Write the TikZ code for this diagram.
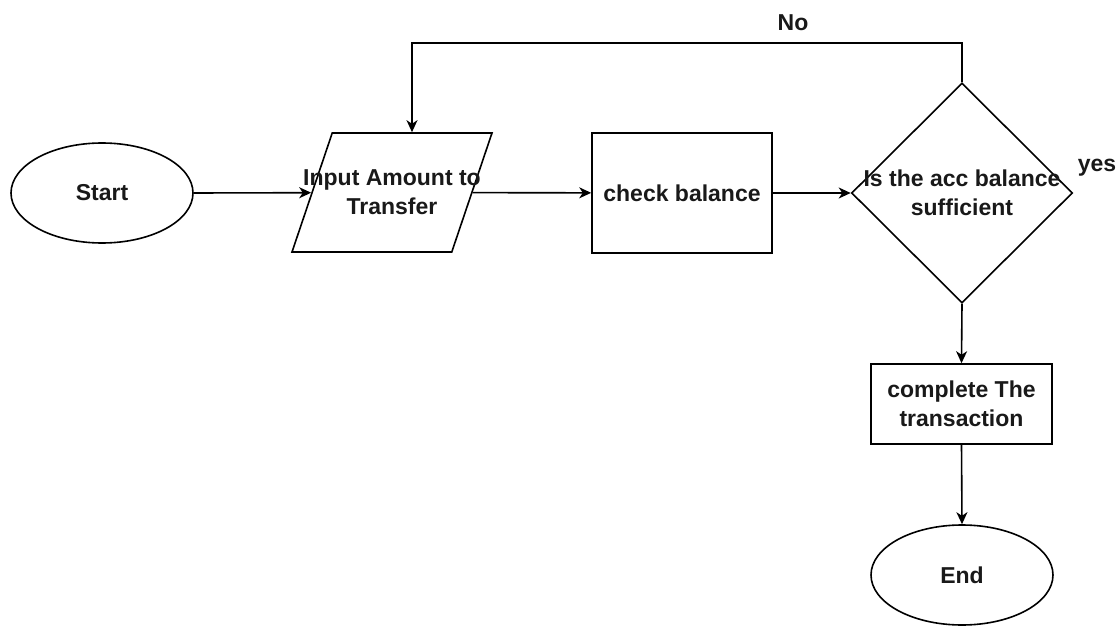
\documentclass[tikz,border=0pt]{standalone}
\usepackage{fontspec}
\setmainfont{Liberation Sans}
\usetikzlibrary{shapes.geometric,arrows.meta,calc}
\begin{document}
\begin{tikzpicture}[x=0.5pt,y=-0.5pt,
  every node/.style={font=\bfseries\fontsize{11.5}{14.5}\selectfont, text=black!90},
  shp/.style={draw, line width=0.8pt, inner sep=0pt, align=center},
  oval/.style={shp, ellipse, minimum width=91pt, minimum height=50pt},
  box/.style={shp, rectangle},
  para/.style={draw, line width=0.8pt, inner sep=1pt, trapezium, trapezium left angle=71.4, trapezium right angle=108.6, trapezium stretches=true, minimum width=100pt, minimum height=59.5pt},
  dia/.style={draw, line width=0.8pt, inner sep=1pt, diamond, minimum width=110.5pt, minimum height=110pt},
  txt/.style={align=center, inner sep=0pt},
  arr/.style={line width=0.8pt, -{Stealth[length=6pt, width=5.5pt, inset=1.8pt]}}
]
\useasboundingbox (0,0) rectangle (1120,626);
\node[oval] (start) at (102,193) {Start};
\node[para, label={[txt]center:{Input Amount to\\Transfer}}] (inp) at (392,192.5) {};
\node[box, minimum width=90pt, minimum height=60pt] (chk) at (682,193) {check balance};
\node[dia, label={[txt]center:{Is the acc balance\\sufficient}}] (dec) at (962,193) {};
\node[box, minimum width=90.5pt, minimum height=40pt] (cmp) at (961.5,404) {complete The\\transaction};
\node[oval] (end) at (962,575) {End};
\node[txt] (no) at (793,23) {No};
\node[txt] (yes) at (1097,168) {yes};
\coordinate (nl) at (412,43);
\draw[arr] (start.east) -- (inp);
\draw[arr] (inp) -- (chk);
\draw[arr] (chk) -- (dec);
\draw[arr] (dec.north) |- (nl) -- (nl |- inp.north);
\draw[arr] (dec.south) -- (cmp.north);
\draw[arr] (cmp.south) -- (end.north);
\end{tikzpicture}
\end{document}
